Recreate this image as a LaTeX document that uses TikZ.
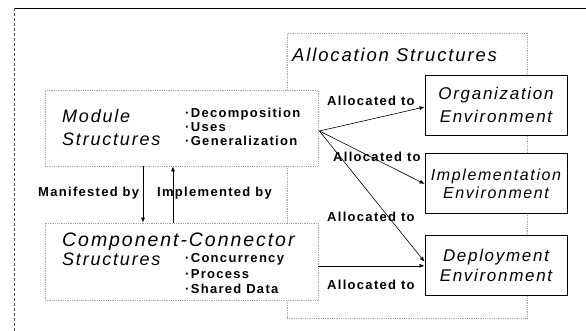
\documentclass[tikz,border=0pt]{standalone}
\usepackage{fontspec}
\usetikzlibrary{positioning,calc,arrows.meta}
\newfontfamily\headfont[LetterSpace=10]{Liberation Sans}
\newfontfamily\itemfont[LetterSpace=10]{Liberation Sans}

\tikzset{
  dotbox/.style = {draw=gray!70, densely dotted, line width=0.8pt, fill=white, inner sep=0pt},
  envbox/.style = {draw, line width=0.9pt, fill=white, minimum width=142pt, minimum height=60pt,
                   align=center, inner sep=0pt, font=\headfont\itshape\fontsize{17}{23}\selectfont},
  head/.style   = {anchor=west, align=left, inner sep=0pt, font=\headfont\itshape\fontsize{18}{23}\selectfont},
  items/.style  = {anchor=west, align=left, inner sep=0pt, font=\itemfont\bfseries\fontsize{13}{14}\selectfont},
  lbl/.style    = {anchor=west, inner sep=0pt, font=\itemfont\bfseries\fontsize{13}{14}\selectfont},
  arr/.style    = {-{Latex[length=5pt,width=4pt]}, line width=0.6pt},
}

\begin{document}
\begin{tikzpicture}[x=1pt, y=-1pt]
  \useasboundingbox (0,0) rectangle (586,331);

  % frame
  \coordinate (f0) at (14,8);
  \coordinate (f1) at (586,8);
  \coordinate (f2) at (14,331);
  \draw[line width=0.8pt] (f0) -- (f1);
  \draw[densely dashed, gray!60!black, line width=0.6pt] (f0) -- (f2);

  % allocation structures
  \node[dotbox, minimum width=240pt, minimum height=285pt] (alloc) at (407,175.5) {};
  \node[head, font=\headfont\itshape\fontsize{18.5}{23}\selectfont] (alloctitle) at (292,55) {Allocation Structures};

  % module structures
  \node[dotbox, minimum width=273pt, minimum height=76pt] (mod) at (181.5,128) {};
  \node[head] (modname) at (62,128) {Module\\Structures};
  \node[items] (moditems) at (185,127) {·Decomposition\\·Uses\\·Generalization};

  % component-connector structures
  \node[dotbox, minimum width=273pt, minimum height=77pt] (comp) at (181.5,261.5) {};
  \node[head, font=\headfont\itshape\fontsize{19.5}{23}\selectfont] (compname) at (62,242) {Component-Connector};
  \node[head] (compname2) at (62,259) {Structures};
  \node[items, font=\itemfont\bfseries\fontsize{13}{15.5}\selectfont] (compitems) at (185,274)
    {·Concurrency\\·Process\\·Shared Data};

  % labels
  \node[lbl] (lman) at (38,193) {Manifested by};
  \node[lbl] (limp) at (157,193) {Implemented by};
  \node[lbl] (la1) at (327,101) {Allocated to};
  \node[lbl] (la2) at (333,157) {Allocated to};
  \node[lbl] (la3) at (327,217) {Allocated to};
  \node[lbl] (la4) at (327,285) {Allocated to};

  % environments
  \node[envbox] (org) at (496,105) {Organization\\Environment};
  \node[envbox, below=18pt of org, font=\headfont\itshape\fontsize{16}{18}\selectfont] (impl) {Implementation\\Environment};
  \node[envbox, below=21pt of impl, font=\headfont\itshape\fontsize{17}{20}\selectfont] (dep) {Deployment\\Environment};

  \coordinate (src) at ($(mod.east)+(1,3)$);
  \draw[arr] ([xshift=-38.5pt]mod.south) -- ([xshift=-38.5pt]comp.north);
  \draw[arr] ([xshift=-8.5pt]comp.north) -- ([xshift=-8.5pt]mod.south);
  \draw[arr] (src) -- ($(org.west)+(0,2)$);
  \draw[arr] (src) -- (impl.west);
  \draw[arr] (src) -- ($(dep.west)+(0,-4)$);
  \draw[arr] (comp.east |- dep.west) -- (dep.west);
\end{tikzpicture}
\end{document}
